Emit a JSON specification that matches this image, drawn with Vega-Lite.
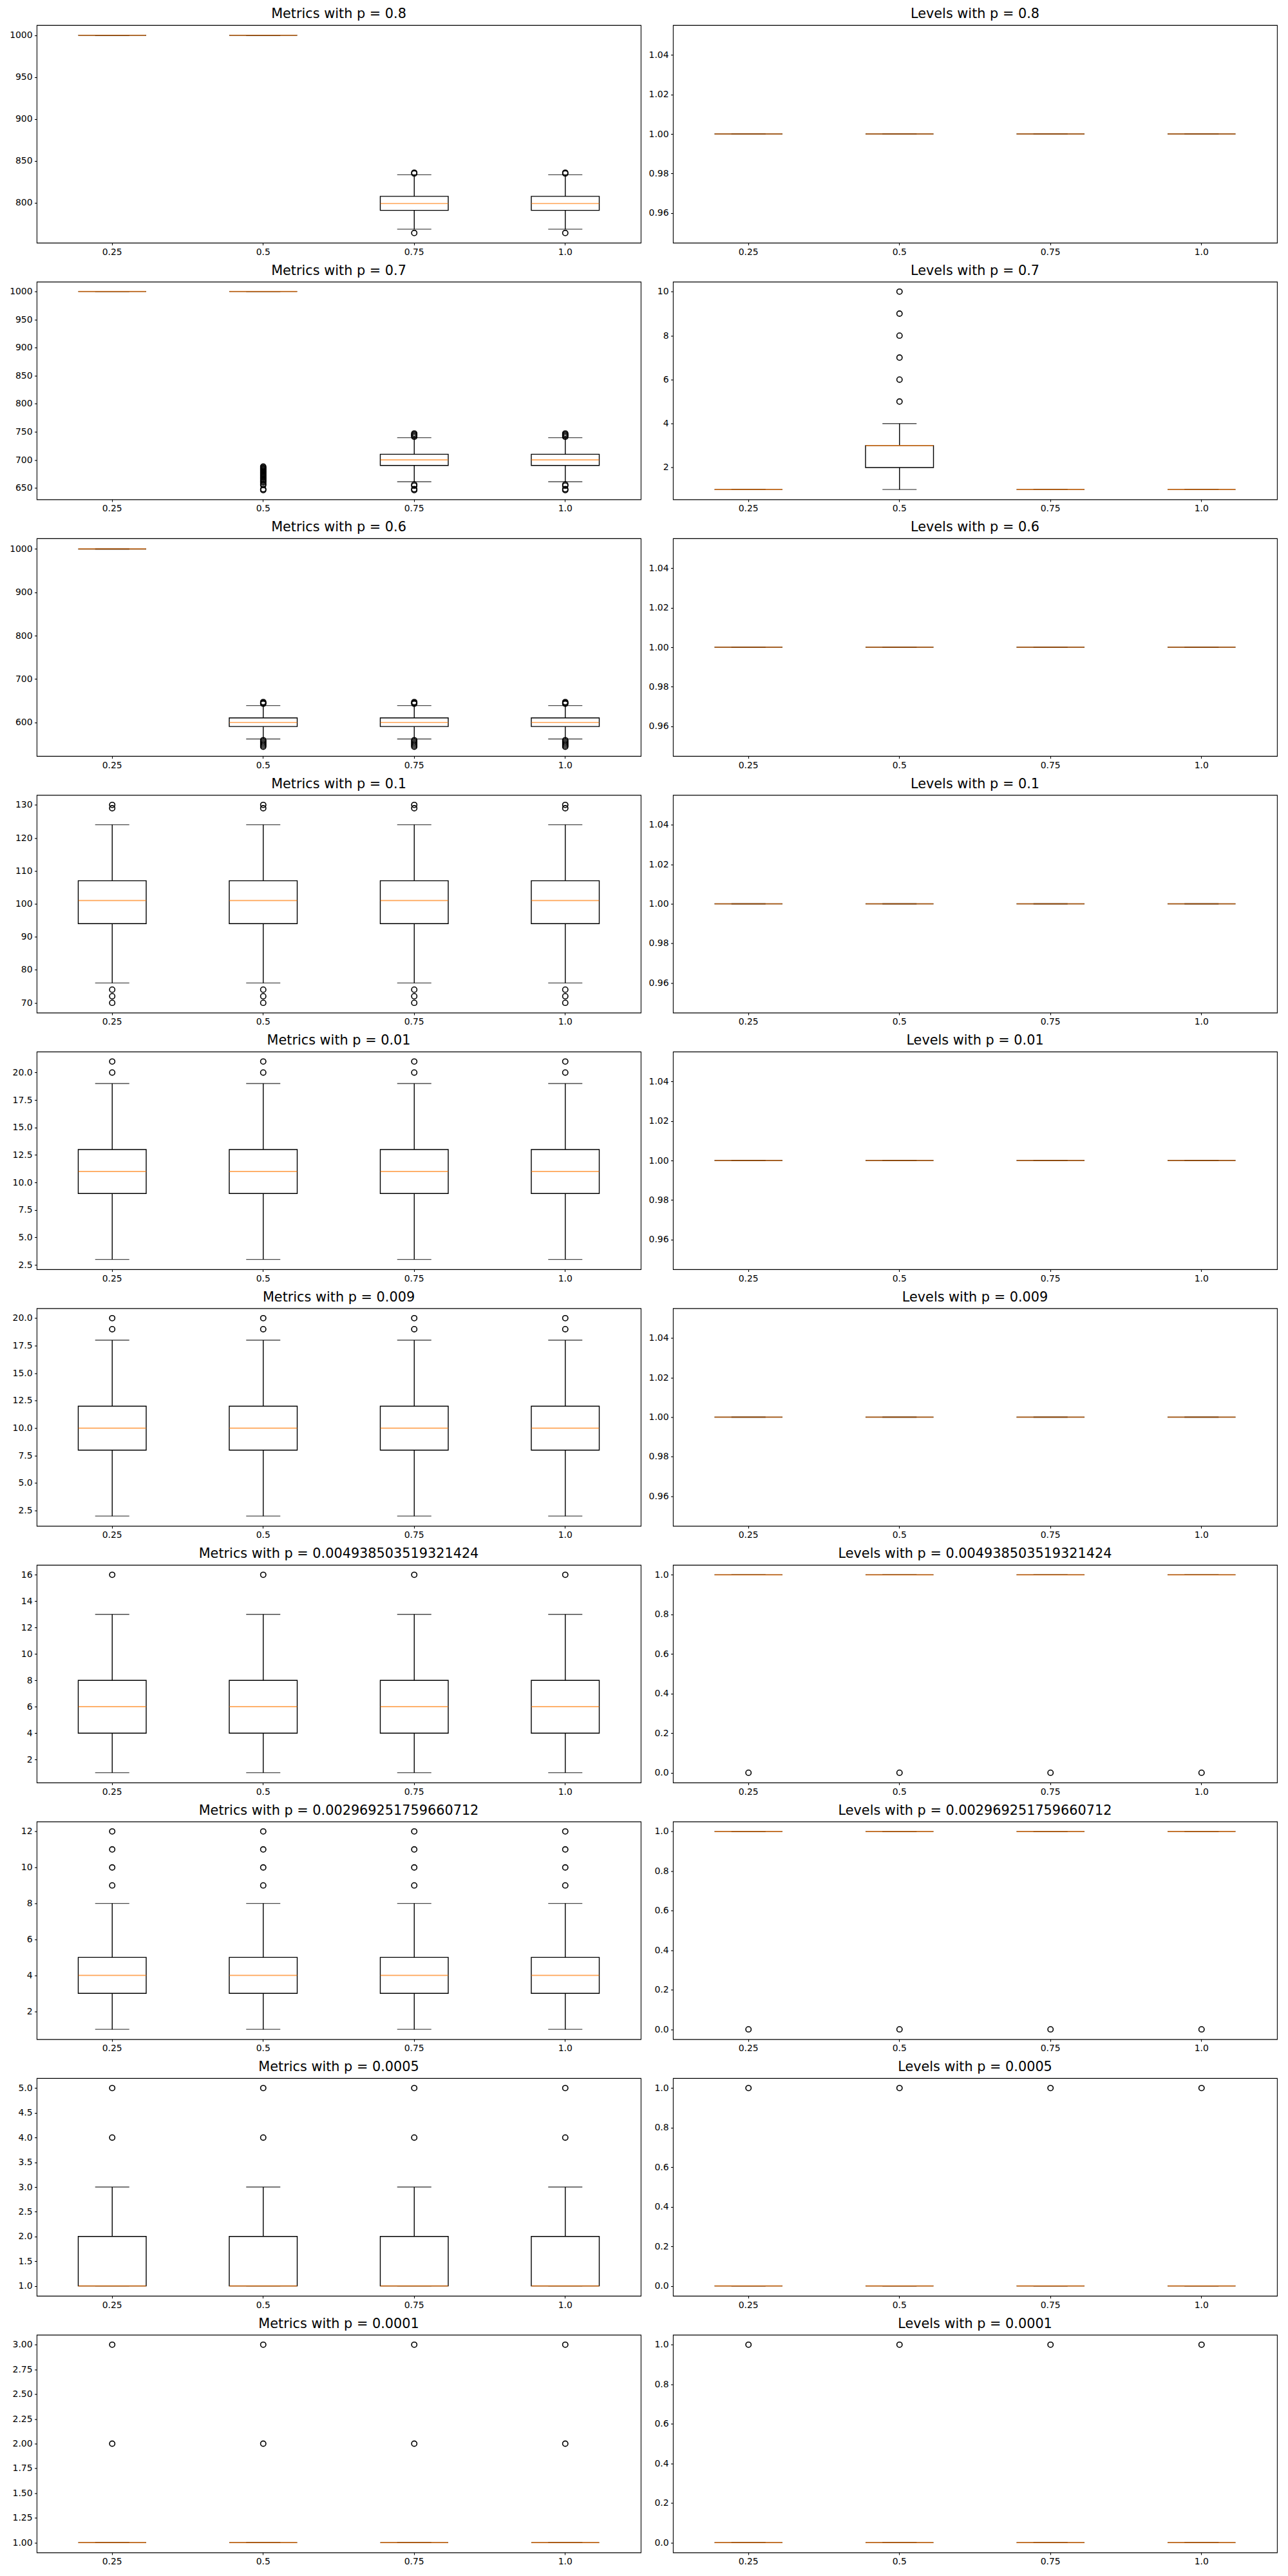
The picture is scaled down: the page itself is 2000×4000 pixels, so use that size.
{
"$schema":"https://vega.github.io/schema/vega-lite/v6.json",
"background":"white",
"padding":{"left":14,"top":10,"right":5,"bottom":5},
"datasets":{
"b":[
{"p":"M1","x":"0.25","lo":1000,"q1":1000,"med":1000,"q3":1000,"hi":1000},
{"p":"M1","x":"0.5","lo":1000,"q1":1000,"med":1000,"q3":1000,"hi":1000},
{"p":"M1","x":"0.75","lo":768.5,"q1":791,"med":799.2,"q3":807.7,"hi":833.5},
{"p":"M1","x":"1.0","lo":768.5,"q1":791,"med":799.2,"q3":807.7,"hi":833.5},
{"p":"L1","x":"0.25","lo":1,"q1":1,"med":1,"q3":1,"hi":1},
{"p":"L1","x":"0.5","lo":1,"q1":1,"med":1,"q3":1,"hi":1},
{"p":"L1","x":"0.75","lo":1,"q1":1,"med":1,"q3":1,"hi":1},
{"p":"L1","x":"1.0","lo":1,"q1":1,"med":1,"q3":1,"hi":1},
{"p":"M2","x":"0.25","lo":1000,"q1":1000,"med":1000,"q3":1000,"hi":1000},
{"p":"M2","x":"0.5","lo":1000,"q1":1000,"med":1000,"q3":1000,"hi":1000},
{"p":"M2","x":"0.75","lo":661,"q1":690,"med":700,"q3":710,"hi":739.5},
{"p":"M2","x":"1.0","lo":661,"q1":690,"med":700,"q3":710,"hi":739.5},
{"p":"L2","x":"0.25","lo":1,"q1":1,"med":1,"q3":1,"hi":1},
{"p":"L2","x":"0.5","lo":1,"q1":2,"med":3,"q3":3,"hi":4},
{"p":"L2","x":"0.75","lo":1,"q1":1,"med":1,"q3":1,"hi":1},
{"p":"L2","x":"1.0","lo":1,"q1":1,"med":1,"q3":1,"hi":1},
{"p":"M3","x":"0.25","lo":1000,"q1":1000,"med":1000,"q3":1000,"hi":1000},
{"p":"M3","x":"0.5","lo":561.7,"q1":590.5,"med":600,"q3":610.4,"hi":638.8},
{"p":"M3","x":"0.75","lo":561.7,"q1":590.5,"med":600,"q3":610.4,"hi":638.8},
{"p":"M3","x":"1.0","lo":561.7,"q1":590.5,"med":600,"q3":610.4,"hi":638.8},
{"p":"L3","x":"0.25","lo":1,"q1":1,"med":1,"q3":1,"hi":1},
{"p":"L3","x":"0.5","lo":1,"q1":1,"med":1,"q3":1,"hi":1},
{"p":"L3","x":"0.75","lo":1,"q1":1,"med":1,"q3":1,"hi":1},
{"p":"L3","x":"1.0","lo":1,"q1":1,"med":1,"q3":1,"hi":1},
{"p":"M4","x":"0.25","lo":76,"q1":94,"med":101,"q3":107,"hi":124},
{"p":"M4","x":"0.5","lo":76,"q1":94,"med":101,"q3":107,"hi":124},
{"p":"M4","x":"0.75","lo":76,"q1":94,"med":101,"q3":107,"hi":124},
{"p":"M4","x":"1.0","lo":76,"q1":94,"med":101,"q3":107,"hi":124},
{"p":"L4","x":"0.25","lo":1,"q1":1,"med":1,"q3":1,"hi":1},
{"p":"L4","x":"0.5","lo":1,"q1":1,"med":1,"q3":1,"hi":1},
{"p":"L4","x":"0.75","lo":1,"q1":1,"med":1,"q3":1,"hi":1},
{"p":"L4","x":"1.0","lo":1,"q1":1,"med":1,"q3":1,"hi":1},
{"p":"M5","x":"0.25","lo":3,"q1":9,"med":11,"q3":13,"hi":19},
{"p":"M5","x":"0.5","lo":3,"q1":9,"med":11,"q3":13,"hi":19},
{"p":"M5","x":"0.75","lo":3,"q1":9,"med":11,"q3":13,"hi":19},
{"p":"M5","x":"1.0","lo":3,"q1":9,"med":11,"q3":13,"hi":19},
{"p":"L5","x":"0.25","lo":1,"q1":1,"med":1,"q3":1,"hi":1},
{"p":"L5","x":"0.5","lo":1,"q1":1,"med":1,"q3":1,"hi":1},
{"p":"L5","x":"0.75","lo":1,"q1":1,"med":1,"q3":1,"hi":1},
{"p":"L5","x":"1.0","lo":1,"q1":1,"med":1,"q3":1,"hi":1},
{"p":"M6","x":"0.25","lo":2,"q1":8,"med":10,"q3":12,"hi":18},
{"p":"M6","x":"0.5","lo":2,"q1":8,"med":10,"q3":12,"hi":18},
{"p":"M6","x":"0.75","lo":2,"q1":8,"med":10,"q3":12,"hi":18},
{"p":"M6","x":"1.0","lo":2,"q1":8,"med":10,"q3":12,"hi":18},
{"p":"L6","x":"0.25","lo":1,"q1":1,"med":1,"q3":1,"hi":1},
{"p":"L6","x":"0.5","lo":1,"q1":1,"med":1,"q3":1,"hi":1},
{"p":"L6","x":"0.75","lo":1,"q1":1,"med":1,"q3":1,"hi":1},
{"p":"L6","x":"1.0","lo":1,"q1":1,"med":1,"q3":1,"hi":1},
{"p":"M7","x":"0.25","lo":1,"q1":4,"med":6,"q3":8,"hi":13},
{"p":"M7","x":"0.5","lo":1,"q1":4,"med":6,"q3":8,"hi":13},
{"p":"M7","x":"0.75","lo":1,"q1":4,"med":6,"q3":8,"hi":13},
{"p":"M7","x":"1.0","lo":1,"q1":4,"med":6,"q3":8,"hi":13},
{"p":"L7","x":"0.25","lo":1,"q1":1,"med":1,"q3":1,"hi":1},
{"p":"L7","x":"0.5","lo":1,"q1":1,"med":1,"q3":1,"hi":1},
{"p":"L7","x":"0.75","lo":1,"q1":1,"med":1,"q3":1,"hi":1},
{"p":"L7","x":"1.0","lo":1,"q1":1,"med":1,"q3":1,"hi":1},
{"p":"M8","x":"0.25","lo":1,"q1":3,"med":4,"q3":5,"hi":8},
{"p":"M8","x":"0.5","lo":1,"q1":3,"med":4,"q3":5,"hi":8},
{"p":"M8","x":"0.75","lo":1,"q1":3,"med":4,"q3":5,"hi":8},
{"p":"M8","x":"1.0","lo":1,"q1":3,"med":4,"q3":5,"hi":8},
{"p":"L8","x":"0.25","lo":1,"q1":1,"med":1,"q3":1,"hi":1},
{"p":"L8","x":"0.5","lo":1,"q1":1,"med":1,"q3":1,"hi":1},
{"p":"L8","x":"0.75","lo":1,"q1":1,"med":1,"q3":1,"hi":1},
{"p":"L8","x":"1.0","lo":1,"q1":1,"med":1,"q3":1,"hi":1},
{"p":"M9","x":"0.25","lo":1,"q1":1,"med":1,"q3":2,"hi":3},
{"p":"M9","x":"0.5","lo":1,"q1":1,"med":1,"q3":2,"hi":3},
{"p":"M9","x":"0.75","lo":1,"q1":1,"med":1,"q3":2,"hi":3},
{"p":"M9","x":"1.0","lo":1,"q1":1,"med":1,"q3":2,"hi":3},
{"p":"L9","x":"0.25","lo":0,"q1":0,"med":0,"q3":0,"hi":0},
{"p":"L9","x":"0.5","lo":0,"q1":0,"med":0,"q3":0,"hi":0},
{"p":"L9","x":"0.75","lo":0,"q1":0,"med":0,"q3":0,"hi":0},
{"p":"L9","x":"1.0","lo":0,"q1":0,"med":0,"q3":0,"hi":0},
{"p":"M10","x":"0.25","lo":1,"q1":1,"med":1,"q3":1,"hi":1},
{"p":"M10","x":"0.5","lo":1,"q1":1,"med":1,"q3":1,"hi":1},
{"p":"M10","x":"0.75","lo":1,"q1":1,"med":1,"q3":1,"hi":1},
{"p":"M10","x":"1.0","lo":1,"q1":1,"med":1,"q3":1,"hi":1},
{"p":"L10","x":"0.25","lo":0,"q1":0,"med":0,"q3":0,"hi":0},
{"p":"L10","x":"0.5","lo":0,"q1":0,"med":0,"q3":0,"hi":0},
{"p":"L10","x":"0.75","lo":0,"q1":0,"med":0,"q3":0,"hi":0},
{"p":"L10","x":"1.0","lo":0,"q1":0,"med":0,"q3":0,"hi":0}
],
"f":[
{"p":"M1","x":"0.75","v":764},{"p":"M1","x":"0.75","v":835},{"p":"M1","x":"0.75","v":836},
{"p":"M1","x":"1.0","v":764},{"p":"M1","x":"1.0","v":835},{"p":"M1","x":"1.0","v":836},
{"p":"M2","x":"0.5","v":646},{"p":"M2","x":"0.5","v":648},{"p":"M2","x":"0.5","v":655},{"p":"M2","x":"0.5","v":657},{"p":"M2","x":"0.5","v":660},{"p":"M2","x":"0.5","v":662},{"p":"M2","x":"0.5","v":664},{"p":"M2","x":"0.5","v":666},{"p":"M2","x":"0.5","v":668},{"p":"M2","x":"0.5","v":670},{"p":"M2","x":"0.5","v":672},{"p":"M2","x":"0.5","v":674},{"p":"M2","x":"0.5","v":676},{"p":"M2","x":"0.5","v":678},{"p":"M2","x":"0.5","v":680},{"p":"M2","x":"0.5","v":682},{"p":"M2","x":"0.5","v":684},{"p":"M2","x":"0.5","v":686},{"p":"M2","x":"0.5","v":688},
{"p":"M2","x":"0.75","v":741},{"p":"M2","x":"0.75","v":743},{"p":"M2","x":"0.75","v":745},{"p":"M2","x":"0.75","v":747},{"p":"M2","x":"0.75","v":656},{"p":"M2","x":"0.75","v":654},{"p":"M2","x":"0.75","v":648},{"p":"M2","x":"0.75","v":646},
{"p":"M2","x":"1.0","v":741},{"p":"M2","x":"1.0","v":743},{"p":"M2","x":"1.0","v":745},{"p":"M2","x":"1.0","v":747},{"p":"M2","x":"1.0","v":656},{"p":"M2","x":"1.0","v":654},{"p":"M2","x":"1.0","v":648},{"p":"M2","x":"1.0","v":646},
{"p":"L2","x":"0.5","v":5},{"p":"L2","x":"0.5","v":6},{"p":"L2","x":"0.5","v":7},{"p":"L2","x":"0.5","v":8},{"p":"L2","x":"0.5","v":9},{"p":"L2","x":"0.5","v":10},
{"p":"M3","x":"0.5","v":643},{"p":"M3","x":"0.5","v":645},{"p":"M3","x":"0.5","v":647},{"p":"M3","x":"0.5","v":559},{"p":"M3","x":"0.5","v":556},{"p":"M3","x":"0.5","v":553},{"p":"M3","x":"0.5","v":550},{"p":"M3","x":"0.5","v":547},{"p":"M3","x":"0.5","v":544},
{"p":"M3","x":"0.75","v":643},{"p":"M3","x":"0.75","v":645},{"p":"M3","x":"0.75","v":647},{"p":"M3","x":"0.75","v":559},{"p":"M3","x":"0.75","v":556},{"p":"M3","x":"0.75","v":553},{"p":"M3","x":"0.75","v":550},{"p":"M3","x":"0.75","v":547},{"p":"M3","x":"0.75","v":544},
{"p":"M3","x":"1.0","v":643},{"p":"M3","x":"1.0","v":645},{"p":"M3","x":"1.0","v":647},{"p":"M3","x":"1.0","v":559},{"p":"M3","x":"1.0","v":556},{"p":"M3","x":"1.0","v":553},{"p":"M3","x":"1.0","v":550},{"p":"M3","x":"1.0","v":547},{"p":"M3","x":"1.0","v":544},
{"p":"M4","x":"0.25","v":129},{"p":"M4","x":"0.25","v":130},{"p":"M4","x":"0.25","v":74},{"p":"M4","x":"0.25","v":72},{"p":"M4","x":"0.25","v":70},
{"p":"M4","x":"0.5","v":129},{"p":"M4","x":"0.5","v":130},{"p":"M4","x":"0.5","v":74},{"p":"M4","x":"0.5","v":72},{"p":"M4","x":"0.5","v":70},
{"p":"M4","x":"0.75","v":129},{"p":"M4","x":"0.75","v":130},{"p":"M4","x":"0.75","v":74},{"p":"M4","x":"0.75","v":72},{"p":"M4","x":"0.75","v":70},
{"p":"M4","x":"1.0","v":129},{"p":"M4","x":"1.0","v":130},{"p":"M4","x":"1.0","v":74},{"p":"M4","x":"1.0","v":72},{"p":"M4","x":"1.0","v":70},
{"p":"M5","x":"0.25","v":20},{"p":"M5","x":"0.25","v":21},{"p":"M5","x":"0.5","v":20},{"p":"M5","x":"0.5","v":21},{"p":"M5","x":"0.75","v":20},{"p":"M5","x":"0.75","v":21},{"p":"M5","x":"1.0","v":20},{"p":"M5","x":"1.0","v":21},
{"p":"M6","x":"0.25","v":19},{"p":"M6","x":"0.25","v":20},{"p":"M6","x":"0.5","v":19},{"p":"M6","x":"0.5","v":20},{"p":"M6","x":"0.75","v":19},{"p":"M6","x":"0.75","v":20},{"p":"M6","x":"1.0","v":19},{"p":"M6","x":"1.0","v":20},
{"p":"M7","x":"0.25","v":16},{"p":"M7","x":"0.5","v":16},{"p":"M7","x":"0.75","v":16},{"p":"M7","x":"1.0","v":16},
{"p":"L7","x":"0.25","v":0},{"p":"L7","x":"0.5","v":0},{"p":"L7","x":"0.75","v":0},{"p":"L7","x":"1.0","v":0},
{"p":"M8","x":"0.25","v":9},{"p":"M8","x":"0.25","v":10},{"p":"M8","x":"0.25","v":11},{"p":"M8","x":"0.25","v":12},
{"p":"M8","x":"0.5","v":9},{"p":"M8","x":"0.5","v":10},{"p":"M8","x":"0.5","v":11},{"p":"M8","x":"0.5","v":12},
{"p":"M8","x":"0.75","v":9},{"p":"M8","x":"0.75","v":10},{"p":"M8","x":"0.75","v":11},{"p":"M8","x":"0.75","v":12},
{"p":"M8","x":"1.0","v":9},{"p":"M8","x":"1.0","v":10},{"p":"M8","x":"1.0","v":11},{"p":"M8","x":"1.0","v":12},
{"p":"L8","x":"0.25","v":0},{"p":"L8","x":"0.5","v":0},{"p":"L8","x":"0.75","v":0},{"p":"L8","x":"1.0","v":0},
{"p":"M9","x":"0.25","v":4},{"p":"M9","x":"0.25","v":5},{"p":"M9","x":"0.5","v":4},{"p":"M9","x":"0.5","v":5},{"p":"M9","x":"0.75","v":4},{"p":"M9","x":"0.75","v":5},{"p":"M9","x":"1.0","v":4},{"p":"M9","x":"1.0","v":5},
{"p":"L9","x":"0.25","v":1},{"p":"L9","x":"0.5","v":1},{"p":"L9","x":"0.75","v":1},{"p":"L9","x":"1.0","v":1},
{"p":"M10","x":"0.25","v":2},{"p":"M10","x":"0.25","v":3},{"p":"M10","x":"0.5","v":2},{"p":"M10","x":"0.5","v":3},{"p":"M10","x":"0.75","v":2},{"p":"M10","x":"0.75","v":3},{"p":"M10","x":"1.0","v":2},{"p":"M10","x":"1.0","v":3},
{"p":"L10","x":"0.25","v":1},{"p":"L10","x":"0.5","v":1},{"p":"L10","x":"0.75","v":1},{"p":"L10","x":"1.0","v":1}
]
},
"columns":2,
"spacing":{"row":9.5,"column":10},
"concat":[
{"title":"Metrics with p = 0.8","width":938,"height":338,"data":{"name":"b"},"transform":[{"filter":"datum.p=='M1'"}],"encoding":{"x":{"field":"x","type":"ordinal","title":null,"scale":{"domain":["0.25","0.5","0.75","1.0"],"paddingInner":0,"paddingOuter":0},"axis":{"labelAngle":0}}},"layer":[
{"mark":{"type":"rule","color":"black","strokeWidth":1.4},"encoding":{"y":{"field":"lo","type":"quantitative","title":null,"scale":{"domain":[752.3,1012.1],"nice":false,"zero":false},"axis":{"values":[800,850,900,950,1000],"format":"d"}},"y2":{"field":"hi"}}},
{"mark":{"type":"bar","width":{"band":0.45},"fill":"white","stroke":"black","strokeWidth":1.4},"encoding":{"y":{"field":"q1","type":"quantitative","title":null},"y2":{"field":"q3"}}},
{"mark":{"type":"tick","orient":"horizontal","size":53,"thickness":1.4,"color":"black"},"encoding":{"y":{"field":"lo","type":"quantitative","title":null}}},
{"mark":{"type":"tick","orient":"horizontal","size":53,"thickness":1.4,"color":"black"},"encoding":{"y":{"field":"hi","type":"quantitative","title":null}}},
{"mark":{"type":"tick","orient":"horizontal","size":105,"thickness":1.7,"color":"#ff7f0e"},"encoding":{"y":{"field":"med","type":"quantitative","title":null}}},
{"data":{"name":"f"},"transform":[{"filter":"datum.p=='M1'"}],"mark":{"type":"point","shape":"circle","filled":false,"color":"black","stroke":"black","strokeWidth":1.6,"size":69,"opacity":1},"encoding":{"y":{"field":"v","type":"quantitative","title":null}}}]},
{"title":"Levels with p = 0.8","width":938,"height":338,"data":{"name":"b"},"transform":[{"filter":"datum.p=='L1'"}],"encoding":{"x":{"field":"x","type":"ordinal","title":null,"scale":{"domain":["0.25","0.5","0.75","1.0"],"paddingInner":0,"paddingOuter":0},"axis":{"labelAngle":0}}},"layer":[
{"mark":{"type":"rule","color":"black","strokeWidth":1.4},"encoding":{"y":{"field":"lo","type":"quantitative","title":null,"scale":{"domain":[0.945,1.055],"nice":false,"zero":false},"axis":{"values":[0.96,0.98,1,1.02,1.04],"format":".2f"}},"y2":{"field":"hi"}}},
{"mark":{"type":"bar","width":{"band":0.45},"fill":"white","stroke":"black","strokeWidth":1.4},"encoding":{"y":{"field":"q1","type":"quantitative","title":null},"y2":{"field":"q3"}}},
{"mark":{"type":"tick","orient":"horizontal","size":53,"thickness":1.4,"color":"black"},"encoding":{"y":{"field":"lo","type":"quantitative","title":null}}},
{"mark":{"type":"tick","orient":"horizontal","size":53,"thickness":1.4,"color":"black"},"encoding":{"y":{"field":"hi","type":"quantitative","title":null}}},
{"mark":{"type":"tick","orient":"horizontal","size":105,"thickness":1.7,"color":"#ff7f0e"},"encoding":{"y":{"field":"med","type":"quantitative","title":null}}},
{"data":{"name":"f"},"transform":[{"filter":"datum.p=='L1'"}],"mark":{"type":"point","shape":"circle","filled":false,"color":"black","stroke":"black","strokeWidth":1.6,"size":69,"opacity":1},"encoding":{"y":{"field":"v","type":"quantitative","title":null}}}]},
{"title":"Metrics with p = 0.7","width":938,"height":338,"data":{"name":"b"},"transform":[{"filter":"datum.p=='M2'"}],"encoding":{"x":{"field":"x","type":"ordinal","title":null,"scale":{"domain":["0.25","0.5","0.75","1.0"],"paddingInner":0,"paddingOuter":0},"axis":{"labelAngle":0}}},"layer":[
{"mark":{"type":"rule","color":"black","strokeWidth":1.4},"encoding":{"y":{"field":"lo","type":"quantitative","title":null,"scale":{"domain":[629.5,1017.4],"nice":false,"zero":false},"axis":{"values":[650,700,750,800,850,900,950,1000],"format":"d"}},"y2":{"field":"hi"}}},
{"mark":{"type":"bar","width":{"band":0.45},"fill":"white","stroke":"black","strokeWidth":1.4},"encoding":{"y":{"field":"q1","type":"quantitative","title":null},"y2":{"field":"q3"}}},
{"mark":{"type":"tick","orient":"horizontal","size":53,"thickness":1.4,"color":"black"},"encoding":{"y":{"field":"lo","type":"quantitative","title":null}}},
{"mark":{"type":"tick","orient":"horizontal","size":53,"thickness":1.4,"color":"black"},"encoding":{"y":{"field":"hi","type":"quantitative","title":null}}},
{"mark":{"type":"tick","orient":"horizontal","size":105,"thickness":1.7,"color":"#ff7f0e"},"encoding":{"y":{"field":"med","type":"quantitative","title":null}}},
{"data":{"name":"f"},"transform":[{"filter":"datum.p=='M2'"}],"mark":{"type":"point","shape":"circle","filled":false,"color":"black","stroke":"black","strokeWidth":1.6,"size":69,"opacity":1},"encoding":{"y":{"field":"v","type":"quantitative","title":null}}}]},
{"title":"Levels with p = 0.7","width":938,"height":338,"data":{"name":"b"},"transform":[{"filter":"datum.p=='L2'"}],"encoding":{"x":{"field":"x","type":"ordinal","title":null,"scale":{"domain":["0.25","0.5","0.75","1.0"],"paddingInner":0,"paddingOuter":0},"axis":{"labelAngle":0}}},"layer":[
{"mark":{"type":"rule","color":"black","strokeWidth":1.4},"encoding":{"y":{"field":"lo","type":"quantitative","title":null,"scale":{"domain":[0.55,10.45],"nice":false,"zero":false},"axis":{"values":[2,4,6,8,10],"format":"d"}},"y2":{"field":"hi"}}},
{"mark":{"type":"bar","width":{"band":0.45},"fill":"white","stroke":"black","strokeWidth":1.4},"encoding":{"y":{"field":"q1","type":"quantitative","title":null},"y2":{"field":"q3"}}},
{"mark":{"type":"tick","orient":"horizontal","size":53,"thickness":1.4,"color":"black"},"encoding":{"y":{"field":"lo","type":"quantitative","title":null}}},
{"mark":{"type":"tick","orient":"horizontal","size":53,"thickness":1.4,"color":"black"},"encoding":{"y":{"field":"hi","type":"quantitative","title":null}}},
{"mark":{"type":"tick","orient":"horizontal","size":105,"thickness":1.7,"color":"#ff7f0e"},"encoding":{"y":{"field":"med","type":"quantitative","title":null}}},
{"data":{"name":"f"},"transform":[{"filter":"datum.p=='L2'"}],"mark":{"type":"point","shape":"circle","filled":false,"color":"black","stroke":"black","strokeWidth":1.6,"size":69,"opacity":1},"encoding":{"y":{"field":"v","type":"quantitative","title":null}}}]},
{"title":"Metrics with p = 0.6","width":938,"height":338,"data":{"name":"b"},"transform":[{"filter":"datum.p=='M3'"}],"encoding":{"x":{"field":"x","type":"ordinal","title":null,"scale":{"domain":["0.25","0.5","0.75","1.0"],"paddingInner":0,"paddingOuter":0},"axis":{"labelAngle":0}}},"layer":[
{"mark":{"type":"rule","color":"black","strokeWidth":1.4},"encoding":{"y":{"field":"lo","type":"quantitative","title":null,"scale":{"domain":[522.4,1024.4],"nice":false,"zero":false},"axis":{"values":[600,700,800,900,1000],"format":"d"}},"y2":{"field":"hi"}}},
{"mark":{"type":"bar","width":{"band":0.45},"fill":"white","stroke":"black","strokeWidth":1.4},"encoding":{"y":{"field":"q1","type":"quantitative","title":null},"y2":{"field":"q3"}}},
{"mark":{"type":"tick","orient":"horizontal","size":53,"thickness":1.4,"color":"black"},"encoding":{"y":{"field":"lo","type":"quantitative","title":null}}},
{"mark":{"type":"tick","orient":"horizontal","size":53,"thickness":1.4,"color":"black"},"encoding":{"y":{"field":"hi","type":"quantitative","title":null}}},
{"mark":{"type":"tick","orient":"horizontal","size":105,"thickness":1.7,"color":"#ff7f0e"},"encoding":{"y":{"field":"med","type":"quantitative","title":null}}},
{"data":{"name":"f"},"transform":[{"filter":"datum.p=='M3'"}],"mark":{"type":"point","shape":"circle","filled":false,"color":"black","stroke":"black","strokeWidth":1.6,"size":69,"opacity":1},"encoding":{"y":{"field":"v","type":"quantitative","title":null}}}]},
{"title":"Levels with p = 0.6","width":938,"height":338,"data":{"name":"b"},"transform":[{"filter":"datum.p=='L3'"}],"encoding":{"x":{"field":"x","type":"ordinal","title":null,"scale":{"domain":["0.25","0.5","0.75","1.0"],"paddingInner":0,"paddingOuter":0},"axis":{"labelAngle":0}}},"layer":[
{"mark":{"type":"rule","color":"black","strokeWidth":1.4},"encoding":{"y":{"field":"lo","type":"quantitative","title":null,"scale":{"domain":[0.945,1.055],"nice":false,"zero":false},"axis":{"values":[0.96,0.98,1,1.02,1.04],"format":".2f"}},"y2":{"field":"hi"}}},
{"mark":{"type":"bar","width":{"band":0.45},"fill":"white","stroke":"black","strokeWidth":1.4},"encoding":{"y":{"field":"q1","type":"quantitative","title":null},"y2":{"field":"q3"}}},
{"mark":{"type":"tick","orient":"horizontal","size":53,"thickness":1.4,"color":"black"},"encoding":{"y":{"field":"lo","type":"quantitative","title":null}}},
{"mark":{"type":"tick","orient":"horizontal","size":53,"thickness":1.4,"color":"black"},"encoding":{"y":{"field":"hi","type":"quantitative","title":null}}},
{"mark":{"type":"tick","orient":"horizontal","size":105,"thickness":1.7,"color":"#ff7f0e"},"encoding":{"y":{"field":"med","type":"quantitative","title":null}}},
{"data":{"name":"f"},"transform":[{"filter":"datum.p=='L3'"}],"mark":{"type":"point","shape":"circle","filled":false,"color":"black","stroke":"black","strokeWidth":1.6,"size":69,"opacity":1},"encoding":{"y":{"field":"v","type":"quantitative","title":null}}}]},
{"title":"Metrics with p = 0.1","width":938,"height":338,"data":{"name":"b"},"transform":[{"filter":"datum.p=='M4'"}],"encoding":{"x":{"field":"x","type":"ordinal","title":null,"scale":{"domain":["0.25","0.5","0.75","1.0"],"paddingInner":0,"paddingOuter":0},"axis":{"labelAngle":0}}},"layer":[
{"mark":{"type":"rule","color":"black","strokeWidth":1.4},"encoding":{"y":{"field":"lo","type":"quantitative","title":null,"scale":{"domain":[67,133],"nice":false,"zero":false},"axis":{"values":[70,80,90,100,110,120,130],"format":"d"}},"y2":{"field":"hi"}}},
{"mark":{"type":"bar","width":{"band":0.45},"fill":"white","stroke":"black","strokeWidth":1.4},"encoding":{"y":{"field":"q1","type":"quantitative","title":null},"y2":{"field":"q3"}}},
{"mark":{"type":"tick","orient":"horizontal","size":53,"thickness":1.4,"color":"black"},"encoding":{"y":{"field":"lo","type":"quantitative","title":null}}},
{"mark":{"type":"tick","orient":"horizontal","size":53,"thickness":1.4,"color":"black"},"encoding":{"y":{"field":"hi","type":"quantitative","title":null}}},
{"mark":{"type":"tick","orient":"horizontal","size":105,"thickness":1.7,"color":"#ff7f0e"},"encoding":{"y":{"field":"med","type":"quantitative","title":null}}},
{"data":{"name":"f"},"transform":[{"filter":"datum.p=='M4'"}],"mark":{"type":"point","shape":"circle","filled":false,"color":"black","stroke":"black","strokeWidth":1.6,"size":69,"opacity":1},"encoding":{"y":{"field":"v","type":"quantitative","title":null}}}]},
{"title":"Levels with p = 0.1","width":938,"height":338,"data":{"name":"b"},"transform":[{"filter":"datum.p=='L4'"}],"encoding":{"x":{"field":"x","type":"ordinal","title":null,"scale":{"domain":["0.25","0.5","0.75","1.0"],"paddingInner":0,"paddingOuter":0},"axis":{"labelAngle":0}}},"layer":[
{"mark":{"type":"rule","color":"black","strokeWidth":1.4},"encoding":{"y":{"field":"lo","type":"quantitative","title":null,"scale":{"domain":[0.945,1.055],"nice":false,"zero":false},"axis":{"values":[0.96,0.98,1,1.02,1.04],"format":".2f"}},"y2":{"field":"hi"}}},
{"mark":{"type":"bar","width":{"band":0.45},"fill":"white","stroke":"black","strokeWidth":1.4},"encoding":{"y":{"field":"q1","type":"quantitative","title":null},"y2":{"field":"q3"}}},
{"mark":{"type":"tick","orient":"horizontal","size":53,"thickness":1.4,"color":"black"},"encoding":{"y":{"field":"lo","type":"quantitative","title":null}}},
{"mark":{"type":"tick","orient":"horizontal","size":53,"thickness":1.4,"color":"black"},"encoding":{"y":{"field":"hi","type":"quantitative","title":null}}},
{"mark":{"type":"tick","orient":"horizontal","size":105,"thickness":1.7,"color":"#ff7f0e"},"encoding":{"y":{"field":"med","type":"quantitative","title":null}}},
{"data":{"name":"f"},"transform":[{"filter":"datum.p=='L4'"}],"mark":{"type":"point","shape":"circle","filled":false,"color":"black","stroke":"black","strokeWidth":1.6,"size":69,"opacity":1},"encoding":{"y":{"field":"v","type":"quantitative","title":null}}}]},
{"title":"Metrics with p = 0.01","width":938,"height":338,"data":{"name":"b"},"transform":[{"filter":"datum.p=='M5'"}],"encoding":{"x":{"field":"x","type":"ordinal","title":null,"scale":{"domain":["0.25","0.5","0.75","1.0"],"paddingInner":0,"paddingOuter":0},"axis":{"labelAngle":0}}},"layer":[
{"mark":{"type":"rule","color":"black","strokeWidth":1.4},"encoding":{"y":{"field":"lo","type":"quantitative","title":null,"scale":{"domain":[2.1,21.9],"nice":false,"zero":false},"axis":{"values":[2.5,5,7.5,10,12.5,15,17.5,20],"format":".1f"}},"y2":{"field":"hi"}}},
{"mark":{"type":"bar","width":{"band":0.45},"fill":"white","stroke":"black","strokeWidth":1.4},"encoding":{"y":{"field":"q1","type":"quantitative","title":null},"y2":{"field":"q3"}}},
{"mark":{"type":"tick","orient":"horizontal","size":53,"thickness":1.4,"color":"black"},"encoding":{"y":{"field":"lo","type":"quantitative","title":null}}},
{"mark":{"type":"tick","orient":"horizontal","size":53,"thickness":1.4,"color":"black"},"encoding":{"y":{"field":"hi","type":"quantitative","title":null}}},
{"mark":{"type":"tick","orient":"horizontal","size":105,"thickness":1.7,"color":"#ff7f0e"},"encoding":{"y":{"field":"med","type":"quantitative","title":null}}},
{"data":{"name":"f"},"transform":[{"filter":"datum.p=='M5'"}],"mark":{"type":"point","shape":"circle","filled":false,"color":"black","stroke":"black","strokeWidth":1.6,"size":69,"opacity":1},"encoding":{"y":{"field":"v","type":"quantitative","title":null}}}]},
{"title":"Levels with p = 0.01","width":938,"height":338,"data":{"name":"b"},"transform":[{"filter":"datum.p=='L5'"}],"encoding":{"x":{"field":"x","type":"ordinal","title":null,"scale":{"domain":["0.25","0.5","0.75","1.0"],"paddingInner":0,"paddingOuter":0},"axis":{"labelAngle":0}}},"layer":[
{"mark":{"type":"rule","color":"black","strokeWidth":1.4},"encoding":{"y":{"field":"lo","type":"quantitative","title":null,"scale":{"domain":[0.945,1.055],"nice":false,"zero":false},"axis":{"values":[0.96,0.98,1,1.02,1.04],"format":".2f"}},"y2":{"field":"hi"}}},
{"mark":{"type":"bar","width":{"band":0.45},"fill":"white","stroke":"black","strokeWidth":1.4},"encoding":{"y":{"field":"q1","type":"quantitative","title":null},"y2":{"field":"q3"}}},
{"mark":{"type":"tick","orient":"horizontal","size":53,"thickness":1.4,"color":"black"},"encoding":{"y":{"field":"lo","type":"quantitative","title":null}}},
{"mark":{"type":"tick","orient":"horizontal","size":53,"thickness":1.4,"color":"black"},"encoding":{"y":{"field":"hi","type":"quantitative","title":null}}},
{"mark":{"type":"tick","orient":"horizontal","size":105,"thickness":1.7,"color":"#ff7f0e"},"encoding":{"y":{"field":"med","type":"quantitative","title":null}}},
{"data":{"name":"f"},"transform":[{"filter":"datum.p=='L5'"}],"mark":{"type":"point","shape":"circle","filled":false,"color":"black","stroke":"black","strokeWidth":1.6,"size":69,"opacity":1},"encoding":{"y":{"field":"v","type":"quantitative","title":null}}}]},
{"title":"Metrics with p = 0.009","width":938,"height":338,"data":{"name":"b"},"transform":[{"filter":"datum.p=='M6'"}],"encoding":{"x":{"field":"x","type":"ordinal","title":null,"scale":{"domain":["0.25","0.5","0.75","1.0"],"paddingInner":0,"paddingOuter":0},"axis":{"labelAngle":0}}},"layer":[
{"mark":{"type":"rule","color":"black","strokeWidth":1.4},"encoding":{"y":{"field":"lo","type":"quantitative","title":null,"scale":{"domain":[1.1,20.9],"nice":false,"zero":false},"axis":{"values":[2.5,5,7.5,10,12.5,15,17.5,20],"format":".1f"}},"y2":{"field":"hi"}}},
{"mark":{"type":"bar","width":{"band":0.45},"fill":"white","stroke":"black","strokeWidth":1.4},"encoding":{"y":{"field":"q1","type":"quantitative","title":null},"y2":{"field":"q3"}}},
{"mark":{"type":"tick","orient":"horizontal","size":53,"thickness":1.4,"color":"black"},"encoding":{"y":{"field":"lo","type":"quantitative","title":null}}},
{"mark":{"type":"tick","orient":"horizontal","size":53,"thickness":1.4,"color":"black"},"encoding":{"y":{"field":"hi","type":"quantitative","title":null}}},
{"mark":{"type":"tick","orient":"horizontal","size":105,"thickness":1.7,"color":"#ff7f0e"},"encoding":{"y":{"field":"med","type":"quantitative","title":null}}},
{"data":{"name":"f"},"transform":[{"filter":"datum.p=='M6'"}],"mark":{"type":"point","shape":"circle","filled":false,"color":"black","stroke":"black","strokeWidth":1.6,"size":69,"opacity":1},"encoding":{"y":{"field":"v","type":"quantitative","title":null}}}]},
{"title":"Levels with p = 0.009","width":938,"height":338,"data":{"name":"b"},"transform":[{"filter":"datum.p=='L6'"}],"encoding":{"x":{"field":"x","type":"ordinal","title":null,"scale":{"domain":["0.25","0.5","0.75","1.0"],"paddingInner":0,"paddingOuter":0},"axis":{"labelAngle":0}}},"layer":[
{"mark":{"type":"rule","color":"black","strokeWidth":1.4},"encoding":{"y":{"field":"lo","type":"quantitative","title":null,"scale":{"domain":[0.945,1.055],"nice":false,"zero":false},"axis":{"values":[0.96,0.98,1,1.02,1.04],"format":".2f"}},"y2":{"field":"hi"}}},
{"mark":{"type":"bar","width":{"band":0.45},"fill":"white","stroke":"black","strokeWidth":1.4},"encoding":{"y":{"field":"q1","type":"quantitative","title":null},"y2":{"field":"q3"}}},
{"mark":{"type":"tick","orient":"horizontal","size":53,"thickness":1.4,"color":"black"},"encoding":{"y":{"field":"lo","type":"quantitative","title":null}}},
{"mark":{"type":"tick","orient":"horizontal","size":53,"thickness":1.4,"color":"black"},"encoding":{"y":{"field":"hi","type":"quantitative","title":null}}},
{"mark":{"type":"tick","orient":"horizontal","size":105,"thickness":1.7,"color":"#ff7f0e"},"encoding":{"y":{"field":"med","type":"quantitative","title":null}}},
{"data":{"name":"f"},"transform":[{"filter":"datum.p=='L6'"}],"mark":{"type":"point","shape":"circle","filled":false,"color":"black","stroke":"black","strokeWidth":1.6,"size":69,"opacity":1},"encoding":{"y":{"field":"v","type":"quantitative","title":null}}}]},
{"title":"Metrics with p = 0.004938503519321424","width":938,"height":338,"data":{"name":"b"},"transform":[{"filter":"datum.p=='M7'"}],"encoding":{"x":{"field":"x","type":"ordinal","title":null,"scale":{"domain":["0.25","0.5","0.75","1.0"],"paddingInner":0,"paddingOuter":0},"axis":{"labelAngle":0}}},"layer":[
{"mark":{"type":"rule","color":"black","strokeWidth":1.4},"encoding":{"y":{"field":"lo","type":"quantitative","title":null,"scale":{"domain":[0.25,16.75],"nice":false,"zero":false},"axis":{"values":[2,4,6,8,10,12,14,16],"format":"d"}},"y2":{"field":"hi"}}},
{"mark":{"type":"bar","width":{"band":0.45},"fill":"white","stroke":"black","strokeWidth":1.4},"encoding":{"y":{"field":"q1","type":"quantitative","title":null},"y2":{"field":"q3"}}},
{"mark":{"type":"tick","orient":"horizontal","size":53,"thickness":1.4,"color":"black"},"encoding":{"y":{"field":"lo","type":"quantitative","title":null}}},
{"mark":{"type":"tick","orient":"horizontal","size":53,"thickness":1.4,"color":"black"},"encoding":{"y":{"field":"hi","type":"quantitative","title":null}}},
{"mark":{"type":"tick","orient":"horizontal","size":105,"thickness":1.7,"color":"#ff7f0e"},"encoding":{"y":{"field":"med","type":"quantitative","title":null}}},
{"data":{"name":"f"},"transform":[{"filter":"datum.p=='M7'"}],"mark":{"type":"point","shape":"circle","filled":false,"color":"black","stroke":"black","strokeWidth":1.6,"size":69,"opacity":1},"encoding":{"y":{"field":"v","type":"quantitative","title":null}}}]},
{"title":"Levels with p = 0.004938503519321424","width":938,"height":338,"data":{"name":"b"},"transform":[{"filter":"datum.p=='L7'"}],"encoding":{"x":{"field":"x","type":"ordinal","title":null,"scale":{"domain":["0.25","0.5","0.75","1.0"],"paddingInner":0,"paddingOuter":0},"axis":{"labelAngle":0}}},"layer":[
{"mark":{"type":"rule","color":"black","strokeWidth":1.4},"encoding":{"y":{"field":"lo","type":"quantitative","title":null,"scale":{"domain":[-0.05,1.05],"nice":false,"zero":false},"axis":{"values":[0,0.2,0.4,0.6,0.8,1],"format":".1f"}},"y2":{"field":"hi"}}},
{"mark":{"type":"bar","width":{"band":0.45},"fill":"white","stroke":"black","strokeWidth":1.4},"encoding":{"y":{"field":"q1","type":"quantitative","title":null},"y2":{"field":"q3"}}},
{"mark":{"type":"tick","orient":"horizontal","size":53,"thickness":1.4,"color":"black"},"encoding":{"y":{"field":"lo","type":"quantitative","title":null}}},
{"mark":{"type":"tick","orient":"horizontal","size":53,"thickness":1.4,"color":"black"},"encoding":{"y":{"field":"hi","type":"quantitative","title":null}}},
{"mark":{"type":"tick","orient":"horizontal","size":105,"thickness":1.7,"color":"#ff7f0e"},"encoding":{"y":{"field":"med","type":"quantitative","title":null}}},
{"data":{"name":"f"},"transform":[{"filter":"datum.p=='L7'"}],"mark":{"type":"point","shape":"circle","filled":false,"color":"black","stroke":"black","strokeWidth":1.6,"size":69,"opacity":1},"encoding":{"y":{"field":"v","type":"quantitative","title":null}}}]},
{"title":"Metrics with p = 0.002969251759660712","width":938,"height":338,"data":{"name":"b"},"transform":[{"filter":"datum.p=='M8'"}],"encoding":{"x":{"field":"x","type":"ordinal","title":null,"scale":{"domain":["0.25","0.5","0.75","1.0"],"paddingInner":0,"paddingOuter":0},"axis":{"labelAngle":0}}},"layer":[
{"mark":{"type":"rule","color":"black","strokeWidth":1.4},"encoding":{"y":{"field":"lo","type":"quantitative","title":null,"scale":{"domain":[0.45,12.55],"nice":false,"zero":false},"axis":{"values":[2,4,6,8,10,12],"format":"d"}},"y2":{"field":"hi"}}},
{"mark":{"type":"bar","width":{"band":0.45},"fill":"white","stroke":"black","strokeWidth":1.4},"encoding":{"y":{"field":"q1","type":"quantitative","title":null},"y2":{"field":"q3"}}},
{"mark":{"type":"tick","orient":"horizontal","size":53,"thickness":1.4,"color":"black"},"encoding":{"y":{"field":"lo","type":"quantitative","title":null}}},
{"mark":{"type":"tick","orient":"horizontal","size":53,"thickness":1.4,"color":"black"},"encoding":{"y":{"field":"hi","type":"quantitative","title":null}}},
{"mark":{"type":"tick","orient":"horizontal","size":105,"thickness":1.7,"color":"#ff7f0e"},"encoding":{"y":{"field":"med","type":"quantitative","title":null}}},
{"data":{"name":"f"},"transform":[{"filter":"datum.p=='M8'"}],"mark":{"type":"point","shape":"circle","filled":false,"color":"black","stroke":"black","strokeWidth":1.6,"size":69,"opacity":1},"encoding":{"y":{"field":"v","type":"quantitative","title":null}}}]},
{"title":"Levels with p = 0.002969251759660712","width":938,"height":338,"data":{"name":"b"},"transform":[{"filter":"datum.p=='L8'"}],"encoding":{"x":{"field":"x","type":"ordinal","title":null,"scale":{"domain":["0.25","0.5","0.75","1.0"],"paddingInner":0,"paddingOuter":0},"axis":{"labelAngle":0}}},"layer":[
{"mark":{"type":"rule","color":"black","strokeWidth":1.4},"encoding":{"y":{"field":"lo","type":"quantitative","title":null,"scale":{"domain":[-0.05,1.05],"nice":false,"zero":false},"axis":{"values":[0,0.2,0.4,0.6,0.8,1],"format":".1f"}},"y2":{"field":"hi"}}},
{"mark":{"type":"bar","width":{"band":0.45},"fill":"white","stroke":"black","strokeWidth":1.4},"encoding":{"y":{"field":"q1","type":"quantitative","title":null},"y2":{"field":"q3"}}},
{"mark":{"type":"tick","orient":"horizontal","size":53,"thickness":1.4,"color":"black"},"encoding":{"y":{"field":"lo","type":"quantitative","title":null}}},
{"mark":{"type":"tick","orient":"horizontal","size":53,"thickness":1.4,"color":"black"},"encoding":{"y":{"field":"hi","type":"quantitative","title":null}}},
{"mark":{"type":"tick","orient":"horizontal","size":105,"thickness":1.7,"color":"#ff7f0e"},"encoding":{"y":{"field":"med","type":"quantitative","title":null}}},
{"data":{"name":"f"},"transform":[{"filter":"datum.p=='L8'"}],"mark":{"type":"point","shape":"circle","filled":false,"color":"black","stroke":"black","strokeWidth":1.6,"size":69,"opacity":1},"encoding":{"y":{"field":"v","type":"quantitative","title":null}}}]},
{"title":"Metrics with p = 0.0005","width":938,"height":338,"data":{"name":"b"},"transform":[{"filter":"datum.p=='M9'"}],"encoding":{"x":{"field":"x","type":"ordinal","title":null,"scale":{"domain":["0.25","0.5","0.75","1.0"],"paddingInner":0,"paddingOuter":0},"axis":{"labelAngle":0}}},"layer":[
{"mark":{"type":"rule","color":"black","strokeWidth":1.4},"encoding":{"y":{"field":"lo","type":"quantitative","title":null,"scale":{"domain":[0.8,5.2],"nice":false,"zero":false},"axis":{"values":[1,1.5,2,2.5,3,3.5,4,4.5,5],"format":".1f"}},"y2":{"field":"hi"}}},
{"mark":{"type":"bar","width":{"band":0.45},"fill":"white","stroke":"black","strokeWidth":1.4},"encoding":{"y":{"field":"q1","type":"quantitative","title":null},"y2":{"field":"q3"}}},
{"mark":{"type":"tick","orient":"horizontal","size":53,"thickness":1.4,"color":"black"},"encoding":{"y":{"field":"lo","type":"quantitative","title":null}}},
{"mark":{"type":"tick","orient":"horizontal","size":53,"thickness":1.4,"color":"black"},"encoding":{"y":{"field":"hi","type":"quantitative","title":null}}},
{"mark":{"type":"tick","orient":"horizontal","size":105,"thickness":1.7,"color":"#ff7f0e"},"encoding":{"y":{"field":"med","type":"quantitative","title":null}}},
{"data":{"name":"f"},"transform":[{"filter":"datum.p=='M9'"}],"mark":{"type":"point","shape":"circle","filled":false,"color":"black","stroke":"black","strokeWidth":1.6,"size":69,"opacity":1},"encoding":{"y":{"field":"v","type":"quantitative","title":null}}}]},
{"title":"Levels with p = 0.0005","width":938,"height":338,"data":{"name":"b"},"transform":[{"filter":"datum.p=='L9'"}],"encoding":{"x":{"field":"x","type":"ordinal","title":null,"scale":{"domain":["0.25","0.5","0.75","1.0"],"paddingInner":0,"paddingOuter":0},"axis":{"labelAngle":0}}},"layer":[
{"mark":{"type":"rule","color":"black","strokeWidth":1.4},"encoding":{"y":{"field":"lo","type":"quantitative","title":null,"scale":{"domain":[-0.05,1.05],"nice":false,"zero":false},"axis":{"values":[0,0.2,0.4,0.6,0.8,1],"format":".1f"}},"y2":{"field":"hi"}}},
{"mark":{"type":"bar","width":{"band":0.45},"fill":"white","stroke":"black","strokeWidth":1.4},"encoding":{"y":{"field":"q1","type":"quantitative","title":null},"y2":{"field":"q3"}}},
{"mark":{"type":"tick","orient":"horizontal","size":53,"thickness":1.4,"color":"black"},"encoding":{"y":{"field":"lo","type":"quantitative","title":null}}},
{"mark":{"type":"tick","orient":"horizontal","size":53,"thickness":1.4,"color":"black"},"encoding":{"y":{"field":"hi","type":"quantitative","title":null}}},
{"mark":{"type":"tick","orient":"horizontal","size":105,"thickness":1.7,"color":"#ff7f0e"},"encoding":{"y":{"field":"med","type":"quantitative","title":null}}},
{"data":{"name":"f"},"transform":[{"filter":"datum.p=='L9'"}],"mark":{"type":"point","shape":"circle","filled":false,"color":"black","stroke":"black","strokeWidth":1.6,"size":69,"opacity":1},"encoding":{"y":{"field":"v","type":"quantitative","title":null}}}]},
{"title":"Metrics with p = 0.0001","width":938,"height":338,"data":{"name":"b"},"transform":[{"filter":"datum.p=='M10'"}],"encoding":{"x":{"field":"x","type":"ordinal","title":null,"scale":{"domain":["0.25","0.5","0.75","1.0"],"paddingInner":0,"paddingOuter":0},"axis":{"labelAngle":0}}},"layer":[
{"mark":{"type":"rule","color":"black","strokeWidth":1.4},"encoding":{"y":{"field":"lo","type":"quantitative","title":null,"scale":{"domain":[0.9,3.1],"nice":false,"zero":false},"axis":{"values":[1,1.25,1.5,1.75,2,2.25,2.5,2.75,3],"format":".2f"}},"y2":{"field":"hi"}}},
{"mark":{"type":"bar","width":{"band":0.45},"fill":"white","stroke":"black","strokeWidth":1.4},"encoding":{"y":{"field":"q1","type":"quantitative","title":null},"y2":{"field":"q3"}}},
{"mark":{"type":"tick","orient":"horizontal","size":53,"thickness":1.4,"color":"black"},"encoding":{"y":{"field":"lo","type":"quantitative","title":null}}},
{"mark":{"type":"tick","orient":"horizontal","size":53,"thickness":1.4,"color":"black"},"encoding":{"y":{"field":"hi","type":"quantitative","title":null}}},
{"mark":{"type":"tick","orient":"horizontal","size":105,"thickness":1.7,"color":"#ff7f0e"},"encoding":{"y":{"field":"med","type":"quantitative","title":null}}},
{"data":{"name":"f"},"transform":[{"filter":"datum.p=='M10'"}],"mark":{"type":"point","shape":"circle","filled":false,"color":"black","stroke":"black","strokeWidth":1.6,"size":69,"opacity":1},"encoding":{"y":{"field":"v","type":"quantitative","title":null}}}]},
{"title":"Levels with p = 0.0001","width":938,"height":338,"data":{"name":"b"},"transform":[{"filter":"datum.p=='L10'"}],"encoding":{"x":{"field":"x","type":"ordinal","title":null,"scale":{"domain":["0.25","0.5","0.75","1.0"],"paddingInner":0,"paddingOuter":0},"axis":{"labelAngle":0}}},"layer":[
{"mark":{"type":"rule","color":"black","strokeWidth":1.4},"encoding":{"y":{"field":"lo","type":"quantitative","title":null,"scale":{"domain":[-0.05,1.05],"nice":false,"zero":false},"axis":{"values":[0,0.2,0.4,0.6,0.8,1],"format":".1f"}},"y2":{"field":"hi"}}},
{"mark":{"type":"bar","width":{"band":0.45},"fill":"white","stroke":"black","strokeWidth":1.4},"encoding":{"y":{"field":"q1","type":"quantitative","title":null},"y2":{"field":"q3"}}},
{"mark":{"type":"tick","orient":"horizontal","size":53,"thickness":1.4,"color":"black"},"encoding":{"y":{"field":"lo","type":"quantitative","title":null}}},
{"mark":{"type":"tick","orient":"horizontal","size":53,"thickness":1.4,"color":"black"},"encoding":{"y":{"field":"hi","type":"quantitative","title":null}}},
{"mark":{"type":"tick","orient":"horizontal","size":105,"thickness":1.7,"color":"#ff7f0e"},"encoding":{"y":{"field":"med","type":"quantitative","title":null}}},
{"data":{"name":"f"},"transform":[{"filter":"datum.p=='L10'"}],"mark":{"type":"point","shape":"circle","filled":false,"color":"black","stroke":"black","strokeWidth":1.6,"size":69,"opacity":1},"encoding":{"y":{"field":"v","type":"quantitative","title":null}}}]}
],
"config":{
"view":{"stroke":"black","strokeWidth":1.1},
"axis":{"domain":false,"grid":false,"ticks":true,"tickColor":"black","tickSize":3.5,"tickWidth":1.1,"labelColor":"black","labelFont":"DejaVu Sans","labelFontSize":13.9,"labelPadding":3.5},
"title":{"font":"DejaVu Sans","fontSize":20.8,"fontWeight":"normal","color":"black","offset":6}
}
}
